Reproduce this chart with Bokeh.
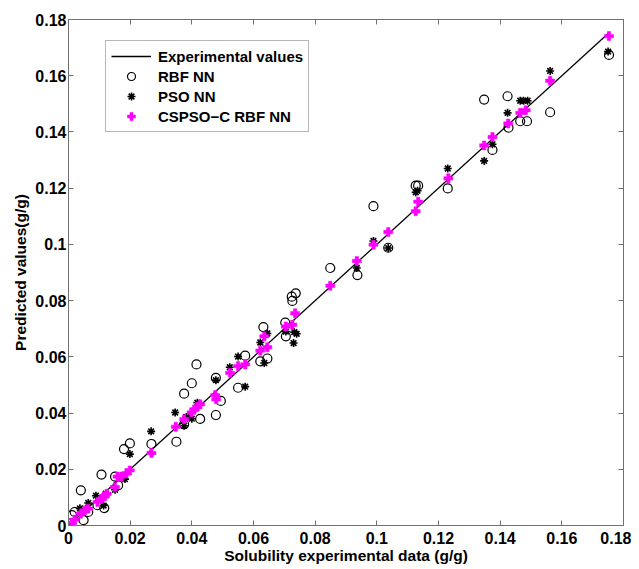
from bokeh.plotting import figure
from bokeh.models import FixedTicker, CustomJSTickFormatter, LinearAxis, Legend, LegendItem, Range1d
from bokeh.embed import file_html
from bokeh.resources import INLINE

# ---- data ----
tick_values = [0.0, 0.02, 0.04, 0.06, 0.08, 0.10, 0.12, 0.14, 0.16, 0.18]
tick_labels = ["0", "0.02", "0.04", "0.06", "0.08", "0.1", "0.12", "0.14", "0.16", "0.18"]

exp_x = [0.0, 0.1753]
exp_y = [0.0, 0.1753]

rbf_x = [0.0040, 0.0011, 0.0020, 0.0049, 0.0064, 0.0094, 0.0107, 0.0116, 0.0151, 0.0161,
         0.0180, 0.0199, 0.0269, 0.0350, 0.0375, 0.0375, 0.0400, 0.0415, 0.0427, 0.0478,
         0.0478, 0.0494, 0.0550, 0.0573, 0.0622, 0.0632, 0.0645, 0.0703, 0.0705, 0.0724,
         0.0726, 0.0737, 0.0849, 0.0937, 0.0989, 0.1037, 0.1126, 0.1134, 0.1230, 0.1348,
         0.1375, 0.1424, 0.1427, 0.1465, 0.1487, 0.1562, 0.1753]
rbf_y = [0.0125, 0.0037, 0.0048, 0.0019, 0.0048, 0.0072, 0.0181, 0.0062, 0.0174, 0.0143,
         0.0272, 0.0292, 0.0290, 0.0298, 0.0469, 0.0360, 0.0506, 0.0573, 0.0379, 0.0525,
         0.0393, 0.0443, 0.0490, 0.0604, 0.0584, 0.0706, 0.0594, 0.0722, 0.0673, 0.0814,
         0.0799, 0.0826, 0.0916, 0.0891, 0.1136, 0.0988, 0.1209, 0.1209, 0.1199, 0.1515,
         0.1336, 0.1527, 0.1415, 0.1438, 0.1438, 0.1470, 0.1674]

pso_x = [0.0037, 0.0064, 0.0089, 0.0114, 0.0121, 0.0151, 0.0183, 0.0199, 0.0268, 0.0346,
         0.0375, 0.0382, 0.0400, 0.0418, 0.0478, 0.0523, 0.0550, 0.0573, 0.0622, 0.0635,
         0.0645, 0.0705, 0.0730, 0.0732, 0.0740, 0.0935, 0.0989, 0.1037, 0.1126, 0.1132,
         0.1230, 0.1348, 0.1375, 0.1424, 0.1465, 0.1476, 0.1489, 0.1562, 0.1750]
pso_y = [0.0061, 0.0080, 0.0106, 0.0071, 0.0113, 0.0127, 0.0165, 0.0254, 0.0335, 0.0402,
         0.0355, 0.0386, 0.0380, 0.0437, 0.0517, 0.0563, 0.0601, 0.0494, 0.0651, 0.0578,
         0.0683, 0.0690, 0.0649, 0.0688, 0.0682, 0.0916, 0.1012, 0.0987, 0.1185, 0.1191,
         0.1270, 0.1297, 0.1356, 0.1468, 0.1511, 0.1511, 0.1511, 0.1617, 0.1686]

cspso_x = [0.0011, 0.0020, 0.0040, 0.0053, 0.0064, 0.0094, 0.0107, 0.0118, 0.0124, 0.0151,
           0.0159, 0.0172, 0.0188, 0.0199, 0.0269, 0.0348, 0.0375, 0.0399, 0.0408, 0.0418,
           0.0427, 0.0476, 0.0479, 0.0524, 0.0550, 0.0573, 0.0622, 0.0635, 0.0645, 0.0705,
           0.0726, 0.0735, 0.0849, 0.0935, 0.0989, 0.1037, 0.1126, 0.1134, 0.1232, 0.1348,
           0.1375, 0.1426, 0.1465, 0.1483, 0.1562, 0.1753]
cspso_y = [0.0009, 0.0021, 0.0042, 0.0054, 0.0060, 0.0084, 0.0095, 0.0104, 0.0113, 0.0137,
           0.0174, 0.0174, 0.0186, 0.0196, 0.0258, 0.0351, 0.0378, 0.0402, 0.0413, 0.0422,
           0.0431, 0.0464, 0.0449, 0.0543, 0.0567, 0.0573, 0.0622, 0.0673, 0.0634, 0.0708,
           0.0714, 0.0755, 0.0853, 0.0941, 0.0999, 0.1044, 0.1118, 0.1152, 0.1235, 0.1352,
           0.1382, 0.1430, 0.1468, 0.1477, 0.1582, 0.1741]

FONT = "Liberation Sans"
FRAME = "#707070"

p = figure(width=631, height=566, output_backend="svg", toolbar_location=None,
           x_range=Range1d(0, 0.18), y_range=Range1d(0, 0.18),
           min_border_left=68, min_border_right=8, min_border_top=19, min_border_bottom=38)
p.grid.visible = False
p.outline_line_color = FRAME
p.background_fill_color = "white"
p.border_fill_color = "white"

fmt = CustomJSTickFormatter(args=dict(vals=tick_values, labs=tick_labels),
                            code="const i = vals.findIndex(v => Math.abs(v - tick) < 1e-9); return i >= 0 ? labs[i] : '';")

for ax in (p.xaxis[0], p.yaxis[0]):
    ax.ticker = FixedTicker(ticks=tick_values)
    ax.formatter = fmt
    ax.major_tick_in = 5
    ax.major_tick_out = 0
    ax.minor_tick_line_color = None
    ax.axis_line_color = FRAME
    ax.major_tick_line_color = FRAME
    ax.major_label_text_font = FONT
    ax.major_label_text_font_style = "bold"
    ax.major_label_text_font_size = "16px"
    ax.major_label_text_color = "black"
    ax.axis_label_text_font = FONT
    ax.axis_label_text_font_style = "bold"
    ax.axis_label_text_font_size = "15.5px"
    ax.axis_label_text_color = "black"

p.xaxis.axis_label = "Solubility experimental data (g/g)"
p.yaxis.axis_label = "Predicted values(g/g)"
p.xaxis.major_label_standoff = 6
p.xaxis.axis_label_standoff = 0
p.yaxis.major_label_standoff = 2
p.yaxis.axis_label_standoff = 3

for loc in ("above", "right"):
    ax = LinearAxis(ticker=FixedTicker(ticks=tick_values))
    ax.major_tick_in = 5
    ax.major_tick_out = 0
    ax.minor_tick_line_color = None
    ax.axis_line_color = FRAME
    ax.major_tick_line_color = FRAME
    ax.major_label_text_font_size = "0px"
    ax.major_label_text_color = None
    ax.major_label_standoff = 0
    p.add_layout(ax, loc)

r_line = p.line(exp_x, exp_y, line_color="black", line_width=1.3)
r_rbf = p.scatter(rbf_x, rbf_y, marker="circle", size=9, fill_color=None,
                  line_color="black", line_width=1.2)
r_pso = p.scatter(pso_x, pso_y, marker="asterisk", size=8,
                  line_color="black", line_width=1.6)
r_cs = p.scatter(cspso_x, cspso_y, marker="plus", size=9, fill_color="magenta",
                 line_color="magenta", line_width=0.5)

legend = Legend(items=[
    LegendItem(label="Experimental values", renderers=[r_line]),
    LegendItem(label="RBF NN", renderers=[r_rbf]),
    LegendItem(label="PSO NN", renderers=[r_pso]),
    LegendItem(label="CSPSO\u2212C RBF NN", renderers=[r_cs]),
], location=(37, 393))
legend.label_text_font = FONT
legend.label_text_font_style = "bold"
legend.label_text_font_size = "15px"
legend.label_text_color = "black"
legend.glyph_width = 40
legend.glyph_height = 20
legend.label_height = 20
legend.spacing = 0
legend.padding = 5
legend.margin = 0
legend.label_standoff = 7
legend.border_line_color = FRAME
legend.border_line_width = 1
legend.background_fill_color = "white"
legend.background_fill_alpha = 1
p.add_layout(legend, "center")

open("out.html", "w").write(file_html(p, INLINE))
